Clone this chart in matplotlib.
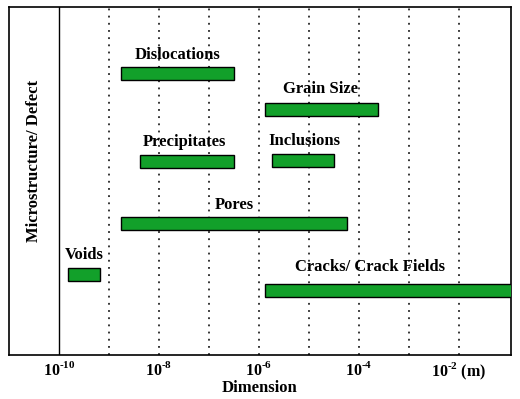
import matplotlib
matplotlib.use("Agg")
import matplotlib.pyplot as plt

plt.rcParams['font.family'] = ['Liberation Serif', 'DejaVu Serif']
plt.rcParams['font.weight'] = 'bold'
plt.rcParams['mathtext.fontset'] = 'custom'
plt.rcParams['mathtext.rm'] = 'Liberation Serif:bold'
plt.rcParams['mathtext.bf'] = 'Liberation Serif:bold'

# rangos en exponente de 10 (metros)
defectos = ['Dislocations', 'Grain Size', 'Precipitates', 'Inclusions',
            'Pores', 'Voids', 'Cracks/ Crack Fields']
desde = [-8.76, -5.88, -8.38, -5.74, -8.76, -9.82, -5.88]
hasta = [-6.5, -3.62, -6.5, -4.5, -4.24, -9.18, 0.0]
fila = [73, 109, 161, 160, 223, 274, 290]      # altura de cada barra
texto_x = [-7.62, -4.78, -7.5, -5.1, -6.5, -9.5, -3.78]
texto_y = [55, 89, 142, 141, 205, 255, 267]

ticks = [-10, -8, -6, -4, -2]
tick_labels = [r'$10^{\text{-10}}$', r'$10^{\text{-8}}$', r'$10^{\text{-6}}$',
               r'$10^{\text{-4}}$', r'$10^{\text{-2}}$ (m)']
grid = [-9, -8, -7, -6, -5, -4, -3, -2]

fig = plt.figure(figsize=(5.2, 3.99), dpi=100)
ax = fig.add_axes([9/520, 44/399, 502/520, 348/399])
ax.set_xlim(-11, -0.96)
ax.set_ylim(355, 7)

for g in grid:
    ax.axvline(g, color='black', ls=(0, (1.2, 3.5)), lw=1.1, zorder=1)
ax.axvline(-10, color='black', lw=1, zorder=1)

for d, a, b, y, tx, ty in zip(defectos, desde, hasta, fila, texto_x, texto_y):
    ax.barh(y, b - a, left=a, height=13, color='#12a02a', edgecolor='black',
            lw=1, zorder=3)
    ax.text(tx, ty, d, ha='center', va='center', fontsize=12, fontweight='bold', zorder=4)

ax.set_xticks(ticks)
ax.set_xticklabels(tick_labels, fontsize=11.5)
ax.tick_params(axis='x', length=0, pad=4)
ax.set_yticks([])
ax.set_xlabel('Dimension', fontsize=12, fontweight='bold', labelpad=-1)

ax.text(-10.5, 161, 'Microstructure/ Defect', rotation=90, ha='center',
        va='center', fontsize=12, fontweight='bold')

for s in ax.spines.values():
    s.set_linewidth(1.2)

fig.savefig('out.png', dpi=100)
